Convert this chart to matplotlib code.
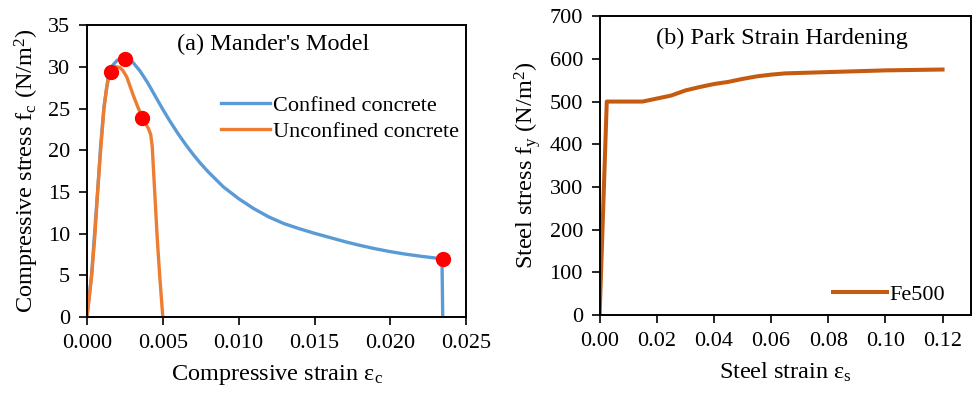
import matplotlib
matplotlib.use("Agg")
import matplotlib.pyplot as plt

plt.rcParams['font.family'] = ['Liberation Serif', 'DejaVu Serif']
plt.rcParams['mathtext.fontset'] = 'custom'
plt.rcParams['mathtext.rm'] = 'Liberation Serif'
plt.rcParams['mathtext.it'] = 'Liberation Serif:italic'

# (a) Mander's model - confined / unconfined concrete
conf_strain = [0.0, 0.0003, 0.0005, 0.0007, 0.0009, 0.00112, 0.0014, 0.0017, 0.002, 0.0025,
               0.003, 0.0035, 0.004, 0.0045, 0.005, 0.0055, 0.006, 0.0065, 0.007, 0.0075,
               0.008, 0.009, 0.010, 0.011, 0.012, 0.013, 0.014, 0.015, 0.016, 0.017,
               0.018, 0.019, 0.020, 0.021, 0.022, 0.023, 0.0234, 0.02345]
conf_stress = [0.0, 5.0, 10.0, 15.0, 20.5, 25.2, 28.7, 30.2, 30.8, 31.0,
               30.6, 29.5, 28.1, 26.5, 24.9, 23.4, 22.0, 20.7, 19.5, 18.4,
               17.4, 15.6, 14.2, 13.0, 12.0, 11.2, 10.6, 10.05, 9.55, 9.05,
               8.6, 8.2, 7.85, 7.55, 7.3, 7.08, 7.0, 0.0]

unconf_strain = [0.0, 0.00031, 0.00053, 0.0007, 0.0009, 0.00112, 0.0013, 0.00145, 0.00156,
                 0.0017, 0.00185, 0.002, 0.00218, 0.00235, 0.00262, 0.00305, 0.00335,
                 0.00365, 0.00405, 0.0042, 0.0043, 0.00445, 0.00464, 0.0048, 0.0050]
unconf_stress = [0.0, 5.0, 10.0, 15.0, 20.0, 25.0, 27.6, 28.9, 29.4,
                 29.8, 30.0, 30.0, 29.9, 29.6, 28.8, 26.6, 25.2,
                 23.9, 22.6, 21.9, 20.5, 15.5, 9.2, 4.8, 0.0]

key_strain = [0.00156, 0.0025, 0.00365, 0.02346]
key_stress = [29.4, 31.0, 23.9, 6.95]

# (b) Park strain hardening - Fe500
steel_strain = [0.0, 0.0025, 0.015, 0.020, 0.025, 0.030, 0.035, 0.040, 0.045, 0.050,
                0.055, 0.060, 0.065, 0.070, 0.080, 0.090, 0.100, 0.110, 0.120]
steel_stress = [0, 500, 500, 507, 514, 526, 534, 541, 546, 553,
                559, 563, 566, 567, 569, 571, 573, 574, 575]

fig = plt.figure(figsize=(9.75, 3.93), dpi=100)
ax1 = fig.add_axes([0.0892, 0.193, 0.389, 0.743])
ax2 = fig.add_axes([0.615, 0.198, 0.381, 0.761])

tick_fs = 16
label_fs = 17.5
title_fs = 17.5

for ax in (ax1, ax2):
    for sp in ax.spines.values():
        sp.set_linewidth(1.4)
        sp.set_color('black')
    ax.tick_params(direction='out', length=6, width=1.2, labelsize=tick_fs, pad=6)

# left panel
ax1.plot(conf_strain, conf_stress, color='#5B9BD5', lw=2.4, label='Confined concrete',
         solid_joinstyle='round')
ax1.plot(unconf_strain, unconf_stress, color='#ED7D31', lw=2.4, label='Unconfined concrete',
         solid_joinstyle='round')
ax1.plot(key_strain, key_stress, 'o', color='#FF0000', ms=10, zorder=5)
ax1.set_xlim(0, 0.025)
ax1.set_ylim(0, 35)
ax1.set_xticks([0, 0.005, 0.010, 0.015, 0.020, 0.025])
ax1.set_xticklabels([f"{v:.3f}" for v in [0, 0.005, 0.010, 0.015, 0.020, 0.025]])
ax1.set_yticks(range(0, 36, 5))
ax1.set_xlabel('Compressive strain $\\mathregular{ε_c}$', fontsize=label_fs, labelpad=7)
ax1.set_ylabel('Compressive stress $\\mathregular{f_c}$ (N/m$\\mathregular{^2}$)', fontsize=label_fs, labelpad=5)
ax1.text(0.49, 0.935, "(a) Mander's Model", transform=ax1.transAxes, ha='center', va='center',
         fontsize=title_fs)
ax1.legend(loc='upper left', bbox_to_anchor=(0.33, 0.79), frameon=False, fontsize=16,
           handlelength=2.2, handletextpad=0.15, labelspacing=0.25, borderaxespad=0)

# right panel
ax2.plot(steel_strain, steel_stress, color='#C55A11', lw=2.9, label='Fe500')
ax2.set_xlim(0, 0.13)
ax2.set_ylim(0, 700)
ax2.set_xticks([0, 0.02, 0.04, 0.06, 0.08, 0.10, 0.12])
ax2.set_xticklabels([f"{v:.2f}" for v in [0, 0.02, 0.04, 0.06, 0.08, 0.10, 0.12]])
ax2.set_yticks(range(0, 701, 100))
ax2.set_xlabel('Steel strain $\\mathregular{ε_s}$', fontsize=label_fs, labelpad=7)
ax2.set_ylabel('Steel stress $\\mathregular{f_y}$ (N/m$\\mathregular{^2}$)', fontsize=label_fs, labelpad=5)
ax2.text(0.49, 0.925, "(b) Park Strain Hardening", transform=ax2.transAxes, ha='center', va='center',
         fontsize=title_fs)
ax2.legend(loc='lower right', bbox_to_anchor=(0.955, 0.005), frameon=False, fontsize=16,
           handlelength=2.4, handletextpad=0.15, borderaxespad=0)

fig.savefig('out.png', dpi=100)
